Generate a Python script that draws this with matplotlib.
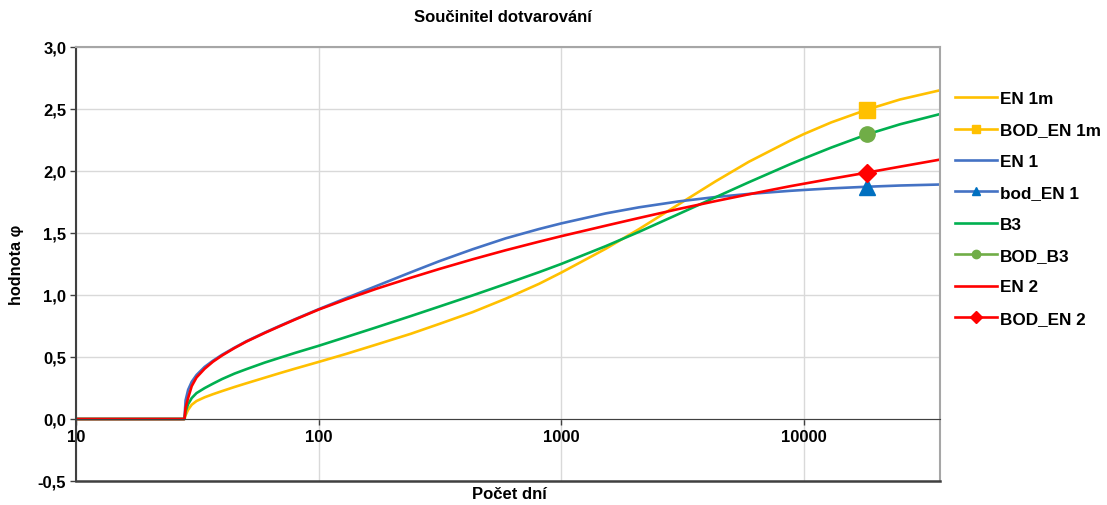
import numpy as np
import matplotlib.pyplot as plt
from matplotlib.ticker import FixedLocator, NullLocator, FuncFormatter

plt.rcParams['font.family'] = ['Liberation Sans', 'DejaVu Sans']
plt.rcParams['font.weight'] = 'bold'

# Počet dní
dny = [10, 28, 28.3, 29, 30, 31.4, 33.9, 36.7, 40, 45, 50.4, 60, 69, 80, 100, 130, 173,
       240, 315, 432, 591, 811, 1000, 1528, 2094, 3060, 4330, 5940, 8780, 10000, 13000,
       18250, 25000, 36500]

en_1m = [0, 0, 0.03, 0.075, 0.115, 0.145, 0.175, 0.20, 0.225, 0.258, 0.288, 0.333, 0.369,
         0.406, 0.46, 0.525, 0.6, 0.687, 0.767, 0.862, 0.97, 1.09, 1.18, 1.373, 1.531,
         1.732, 1.916, 2.074, 2.244, 2.297, 2.392, 2.495, 2.577, 2.651]
en_1 = [0, 0, 0.15, 0.236, 0.30, 0.355, 0.42, 0.47, 0.518, 0.575, 0.627, 0.697, 0.75,
        0.805, 0.885, 0.975, 1.072, 1.183, 1.273, 1.369, 1.457, 1.532, 1.577, 1.658,
        1.707, 1.755, 1.79, 1.815, 1.84, 1.847, 1.86, 1.873, 1.883, 1.891]
b3 = [0, 0, 0.06, 0.12, 0.169, 0.209, 0.249, 0.285, 0.322, 0.366, 0.402, 0.455, 0.493,
      0.533, 0.59, 0.661, 0.739, 0.83, 0.907, 0.997, 1.089, 1.184, 1.25, 1.394, 1.509,
      1.654, 1.788, 1.909, 2.054, 2.10, 2.189, 2.295, 2.377, 2.459]
en_2 = [0, 0, 0.09, 0.17, 0.265, 0.335, 0.405, 0.462, 0.512, 0.572, 0.624, 0.694, 0.747,
        0.802, 0.882, 0.965, 1.05, 1.139, 1.21, 1.288, 1.361, 1.43, 1.474, 1.559, 1.621,
        1.694, 1.757, 1.812, 1.877, 1.897, 1.937, 1.987, 2.035, 2.092]

# body v čase 50 let
bod_den = [18250]
bod_en_1m = [2.49]
bod_en_1 = [1.87]
bod_b3 = [2.30]
bod_en_2 = [1.985]

fig = plt.figure(figsize=(11.07, 5.06), dpi=100)
ax = fig.add_axes([76 / 1107, 1 - 482 / 506, (940 - 76) / 1107, (482 - 48) / 506])

lw = 1.9
ax.plot(dny, en_1m, color='#FFC000', lw=lw, label='EN 1m')
ax.plot(bod_den, bod_en_1m, color='#FFC000', lw=lw, marker='s', ms=11, label='BOD_EN 1m')
ax.plot(dny, en_1, color='#4472C4', lw=lw, label='EN 1')
ax.plot(bod_den, bod_en_1, color='#4472C4', lw=lw, marker='^', ms=12,
        mfc='#0070C0', mec='#0070C0', label='bod_EN 1')
ax.plot(dny, b3, color='#00B050', lw=lw, label='B3')
ax.plot(bod_den, bod_b3, color='#70AD47', lw=lw, marker='o', ms=11, label='BOD_B3')
ax.plot(dny, en_2, color='#FF0000', lw=lw, label='EN 2')
ax.plot(bod_den, bod_en_2, color='#FF0000', lw=lw, marker='D', ms=9, label='BOD_EN 2')

ax.set_xscale('log')
ax.set_xlim(10, 36500)
ax.set_ylim(-0.5, 3.0)

ax.xaxis.set_major_locator(FixedLocator([10, 100, 1000, 10000]))
ax.xaxis.set_minor_locator(NullLocator())
ax.xaxis.set_major_formatter(FuncFormatter(lambda v, p: '%d' % v))
ax.yaxis.set_major_locator(FixedLocator(np.arange(-0.5, 3.01, 0.5)))
ax.yaxis.set_major_formatter(FuncFormatter(lambda v, p: ('%.1f' % v).replace('.', ',')))
ax.tick_params(labelsize=12, length=4, width=1, color='#404040')
ax.tick_params(axis='x', pad=3)
ax.tick_params(axis='y', pad=3)

ax.grid(True, color='#D9D9D9', lw=1)
ax.set_axisbelow(True)

ax.spines['bottom'].set_position(('data', 0))
ax.spines['bottom'].set_color('#404040')
ax.spines['left'].set_color('#404040')
ax.spines['left'].set_linewidth(1.5)
for s in ['top', 'right']:
    ax.spines[s].set_color('#A6A6A6')
    ax.spines[s].set_linewidth(1.5)
ax.axhline(-0.5, color='#404040', lw=1.8, clip_on=False, zorder=5)

fig.text(503 / 1107, 1 - 18 / 506, 'Součinitel dotvarování', ha='center', va='center',
         fontsize=12)
fig.text(509 / 1107, 1 - 495 / 506, 'Počet dní', ha='center', va='center', fontsize=12)
fig.text(17 / 1107, 1 - 265 / 506, 'hodnota φ', ha='center', va='center', rotation=90,
         fontsize=11.7)

leg = ax.legend(loc='center left', bbox_to_anchor=(955 / 1107, 1 - 209.5 / 506),
                bbox_transform=fig.transFigure, frameon=False, fontsize=12.3,
                borderpad=0, borderaxespad=0, handlelength=2.45, handletextpad=0.2,
                labelspacing=0.96)
for h in leg.legend_handles:
    h.set_markersize(6)

fig.savefig('out.png', dpi=100)
